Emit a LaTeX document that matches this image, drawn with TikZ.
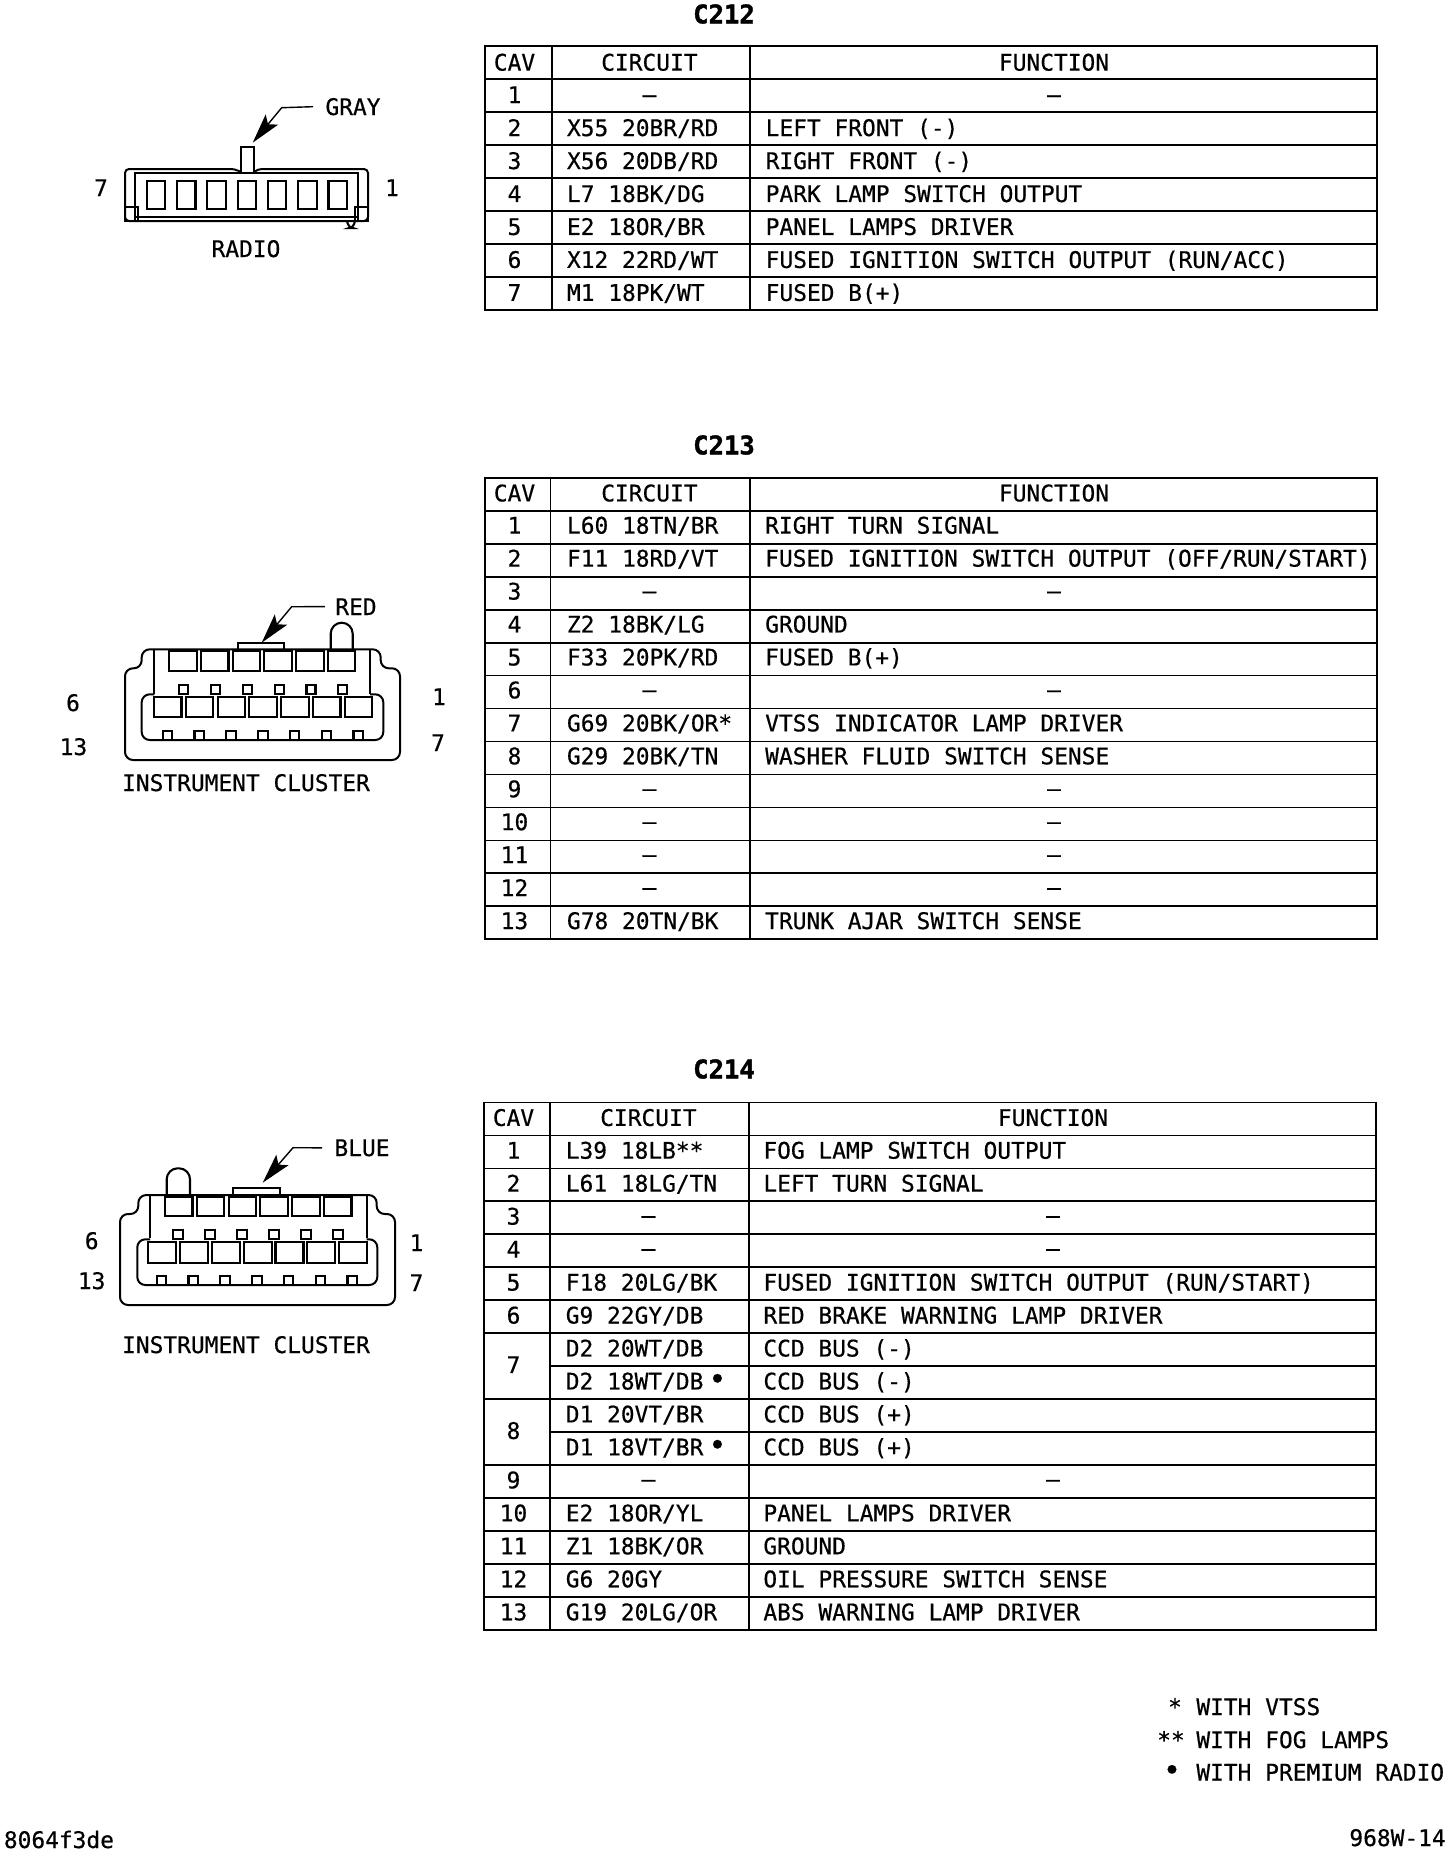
\documentclass[tikz,border=0pt]{standalone}
\usepackage{fontspec}
\newfontfamily\plotfont[FakeBold=0.5]{DejaVu Sans Mono}
\newfontfamily\headfont[FakeBold=1.5]{DejaVu Sans Mono Bold}
\usetikzlibrary{arrows.meta,positioning}
\newcommand{\plotsize}{\fontsize{11.43}{14}\selectfont}
\newcommand{\bigdot}{{\fontsize{15}{15}\selectfont •}}
\newcommand{\dotmark}{\kern2.5pt\bigdot}
\tikzstyle{txt}=[font=\plotfont\plotsize,inner sep=0pt,text=black]
\tikzstyle{cell}=[txt,anchor=base west]
\tikzstyle{mid}=[txt,anchor=base]
\tikzstyle{title}=[inner sep=0pt,font=\headfont\fontsize{12.8}{14}\selectfont]
\tikzstyle{rule}=[line width=0.85pt]
\tikzstyle{shell}=[line width=1pt,rounded corners=4pt]
\tikzstyle{cavity}=[line width=1.05pt]
\tikzstyle{pointer}=[line width=0.7pt,-{Stealth[length=15pt,width=8pt,inset=3pt]}]
\begin{document}
\begin{tikzpicture}[x=0.5pt,y=-0.5pt]
  \useasboundingbox (0,0) rectangle (1456,1854);

  % C212
  \node[title] (titleA) at (724,14) {C212};
  \begin{scope}[shift={(0,46.1)}]
    \draw[rule] (485,0) rectangle (1377,263.8);
    \foreach \k in {1,...,7} \draw[rule] (485,{\k*32.97}) -- (1377,{\k*32.97});
    \foreach \c in {551.8,749.9} \draw[rule] (\c,0) -- (\c,263.8);
    \node[mid] (cavHeadA) at (514.5,24.5) {CAV};
    \node[mid] (cirHeadA) at (649.4,24.5) {CIRCUIT};
    \node[mid] (funHeadA) at (1054,24.5) {FUNCTION};
    \foreach \n in {1,...,7} \node[mid] (cavA\n) at (514.5,{(\n+.5)*32.97+7.5}) {\n};
    \node[mid] (cirA1) at (649.4,{1.5*32.97+7}) {–};
    \node[mid] (funA1) at (1054,{1.5*32.97+7}) {–};
    \foreach \n/\cir/\fun in {2/{X55 20BR/RD}/{LEFT FRONT (-)},
        3/{X56 20DB/RD}/{RIGHT FRONT (-)},
        4/{L7 18BK/DG}/{PARK LAMP SWITCH OUTPUT},
        5/{E2 18OR/BR}/{PANEL LAMPS DRIVER},
        6/{X12 22RD/WT}/{FUSED IGNITION SWITCH OUTPUT (RUN/ACC)},
        7/{M1 18PK/WT}/{FUSED B(+)}} {
      \node[cell] (cirA\n) at (566.6,{(\n+.5)*32.97+7.5}) {\cir};
      \node[cell] (funA\n) at (765.3,{(\n+.5)*32.97+7.5}) {\fun};
    }
  \end{scope}

  % C213
  \node[title] (titleB) at (724,445) {C213};
  \begin{scope}[shift={(0,477.9)}]
    \draw[rule] (485,0) rectangle (1377,461.2);
    \foreach \k in {1,...,13} \draw[rule] (485,{\k*32.95}) -- (1377,{\k*32.95});
    \foreach \c in {550.6,749.9} \draw[rule] (\c,0) -- (\c,461.2);
    \node[mid] (cavHeadB) at (514.5,23.5) {CAV};
    \node[mid] (cirHeadB) at (649.4,23.5) {CIRCUIT};
    \node[mid] (funHeadB) at (1054,23.5) {FUNCTION};
    \foreach \n in {1,...,13} \node[mid] (cavB\n) at (514.5,{(\n+.5)*32.95+6.3}) {\n};
    \foreach \n in {3,6,9,10,11,12} {
      \node[mid] (cirB\n) at (649.4,{(\n+.5)*32.95+5.5}) {–};
      \node[mid] (funB\n) at (1054,{(\n+.5)*32.95+5.5}) {–};
    }
    \foreach \n/\cir/\fun in {1/{L60 18TN/BR}/{RIGHT TURN SIGNAL},
        2/{F11 18RD/VT}/{FUSED IGNITION SWITCH OUTPUT (OFF/RUN/START)},
        4/{Z2 18BK/LG}/{GROUND},
        5/{F33 20PK/RD}/{FUSED B(+)},
        7/{G69 20BK/OR*}/{VTSS INDICATOR LAMP DRIVER},
        8/{G29 20BK/TN}/{WASHER FLUID SWITCH SENSE},
        13/{G78 20TN/BK}/{TRUNK AJAR SWITCH SENSE}} {
      \node[cell] (cirB\n) at (566.6,{(\n+.5)*32.95+6.3}) {\cir};
      \node[cell] (funB\n) at (764.8,{(\n+.5)*32.95+6.3}) {\fun};
    }
  \end{scope}

  % C214
  \node[title] (titleC) at (724,1069) {C214};
  \begin{scope}[shift={(0,1102.4)}]
    \draw[rule] (483.8,0) rectangle (1375.8,527.5);
    \foreach \k in {1,...,7,9,11,12,13,14,15} \draw[rule] (483.8,{\k*32.97}) -- (1375.8,{\k*32.97});
    \foreach \k in {8,10} \draw[rule] (550,{\k*32.97}) -- (1375.8,{\k*32.97});
    \foreach \c in {550,748.7} \draw[rule] (\c,0) -- (\c,527.5);
    \node[mid] (cavHeadC) at (513.5,23.5) {CAV};
    \node[mid] (cirHeadC) at (648.4,23.5) {CIRCUIT};
    \node[mid] (funHeadC) at (1053,23.5) {FUNCTION};
    \foreach \n/\cav in {1/1,2/2,3/3,4/4,5/5,6/6,7.5/7,9.5/8,11/9,12/10,13/11,14/12,15/13}
      \node[mid] (cavC\cav) at (513.5,{(\n+.5)*32.97+6.8}) {\cav};
    \foreach \n in {3,4,11} {
      \node[mid] (cirC\n) at (648.4,{(\n+.5)*32.97+5.5}) {–};
      \node[mid] (funC\n) at (1053,{(\n+.5)*32.97+5.5}) {–};
    }
    \foreach \n/\cir/\fun in {1/{L39 18LB**}/{FOG LAMP SWITCH OUTPUT},
        2/{L61 18LG/TN}/{LEFT TURN SIGNAL},
        5/{F18 20LG/BK}/{FUSED IGNITION SWITCH OUTPUT (RUN/START)},
        6/{G9 22GY/DB}/{RED BRAKE WARNING LAMP DRIVER},
        7/{D2 20WT/DB}/{CCD BUS (-)},
        8/{D2 18WT/DB\dotmark}/{CCD BUS (-)},
        9/{D1 20VT/BR}/{CCD BUS (+)},
        10/{D1 18VT/BR\dotmark}/{CCD BUS (+)},
        12/{E2 18OR/YL}/{PANEL LAMPS DRIVER},
        13/{Z1 18BK/OR}/{GROUND},
        14/{G6 20GY}/{OIL PRESSURE SWITCH SENSE},
        15/{G19 20LG/OR}/{ABS WARNING LAMP DRIVER}} {
      \node[cell] (cirC\n) at (565.4,{(\n+.5)*32.97+6.8}) {\cir};
      \node[cell] (funC\n) at (763,{(\n+.5)*32.97+6.8}) {\fun};
    }
  \end{scope}

  % radio connector
  \draw[shell,rounded corners=2pt] (240.7,172) -- (235,169) -- (125,169) -- (125,221) -- (368,221) -- (368,169) -- (258,169) -- (254,172);
  \draw[cavity] (135,221) -- (135,173) -- (358,173) -- (358,221);
  \draw[cavity] (135,217) -- (358,217);
  \draw[cavity] (240.7,172) -- (240.7,146.7) -- (254,146.7) -- (254,172);
  \foreach \i in {0,...,6} \draw[cavity] ({146.7+30.3*\i},180.7) rectangle ++(18.5,28.3);
  \draw[cavity] (125,207) rectangle (137.7,221);
  \draw[cavity] (355,207) rectangle (368,221);
  \draw[cavity,rounded corners=2pt] (347,221) -- (349,228) -- (353,228) -- (355,221);
  \node[mid] (grayLabel) at (353,115) {GRAY};
  \coordinate (grayBend) at (281.7,107.7);
  \coordinate (grayTip) at (252.7,142.7);
  \draw[pointer] (grayLabel.west) ++(-12,0) -- (grayBend) -- (grayTip);
  \node[mid] (radioLeft) at (101,196) {7};
  \node[mid] (radioRight) at (392,196) {1};
  \node[mid] (radioName) at (246,257) {RADIO};

  % instrument cluster, red
  \draw[shell] (141.7,649.3) -- (380.7,649.3) -- (380.7,668.3) -- (400,668.3) -- (400,760) -- (125,760) -- (125,668.3) -- (141.7,668.3) -- cycle;
  \draw[cavity] (154.3,649.3) -- (154.3,694.3) (370,649.3) -- (370,694.3);
  \draw[shell] (154.3,694.3) -- (141.7,694.3) -- (141.7,740) -- (383.3,740) -- (383.3,694.3) -- (370,694.3);
  \draw[cavity] (237.7,649.3) -- (237.7,642.7) -- (284.3,642.7) -- (284.3,649.3);
  \draw[cavity,rounded corners=5.5pt] (330.7,649.3) -- (330.7,622.7) -- (352.7,622.7) -- (352.7,649.3);
  \foreach \i in {0,...,5} {
    \draw[cavity] ({169.3+31.7*\i},651) rectangle ++(27.5,19.7);
    \draw[cavity] ({179.3+31.8*\i},685) rectangle ++(9,9);
  }
  \foreach \i in {0,...,6} {
    \draw[cavity] ({154+31.8*\i},697.3) rectangle ++(27.5,19.4);
    \draw[cavity] ({162.7+31.8*\i},730.7) rectangle ++(9.5,9.3);
  }
  \node[mid] (redLabel) at (356,615) {RED};
  \coordinate (redBend) at (291.7,606.7);
  \coordinate (redTip) at (261.7,642.7);
  \draw[pointer] (redLabel.west) ++(-10,0) -- (redBend) -- (redTip);
  \node[mid] (redSix) at (73,711) {6};
  \node[mid] (redThirteen) at (73.5,755) {13};
  \node[mid] (redOne) at (439,705) {1};
  \node[mid] (redSeven) at (438,751) {7};
  \node[mid] (redName) at (246,791) {INSTRUMENT CLUSTER};

  % instrument cluster, blue
  \draw[shell] (138.3,1195) -- (376.7,1195) -- (376.7,1214) -- (395,1214) -- (395,1305) -- (120,1305) -- (120,1214) -- (138.3,1214) -- cycle;
  \draw[cavity] (150,1195) -- (150,1238.3) (366.7,1195) -- (366.7,1238.3);
  \draw[shell] (150,1239.3) -- (137.3,1239.3) -- (137.3,1285) -- (377.3,1285) -- (377.3,1239.3) -- (366.7,1239.3);
  \draw[cavity] (232.7,1195) -- (232.7,1188.3) -- (280,1188.3) -- (280,1195);
  \draw[cavity,rounded corners=5.5pt] (166.7,1195) -- (166.7,1168.3) -- (190,1168.3) -- (190,1195);
  \foreach \i in {0,...,5} {
    \draw[cavity] ({165+31.8*\i},1197.3) rectangle ++(27.5,18.7);
    \draw[cavity] ({173.3+32*\i},1230) rectangle ++(9.5,9.3);
  }
  \foreach \i in {0,...,6} {
    \draw[cavity] ({148.3+31.8*\i},1242.3) rectangle ++(28,20.4);
    \draw[cavity] ({156.7+31.8*\i},1275.7) rectangle ++(9.5,9.3);
  }
  \node[mid] (blueLabel) at (362,1156) {BLUE};
  \coordinate (blueBend) at (293,1147.7);
  \coordinate (blueTip) at (262.7,1182.7);
  \draw[pointer] (blueLabel.west) ++(-12,0) -- (blueBend) -- (blueTip);
  \node[mid] (blueSix) at (91.7,1249) {6};
  \node[mid] (blueThirteen) at (91.7,1289) {13};
  \node[mid] (blueOne) at (416.5,1251) {1};
  \node[mid] (blueSeven) at (416.5,1291) {7};
  \node[mid] (blueName) at (246,1353) {INSTRUMENT CLUSTER};

  % notes
  \node[mid] (noteStarOne) at (1175,1715) {*};
  \node[cell] (noteOne) at (1196,1715) {WITH VTSS};
  \node[mid] (noteStarTwo) at (1171,1748) {**};
  \node[cell] (noteTwo) at (1196,1748) {WITH FOG LAMPS};
  \node[mid] (noteDot) at (1172,1780.5) {\bigdot};
  \node[cell] (noteThree) at (1196,1780.5) {WITH PREMIUM RADIO};
  \node[cell] (sheetId) at (3.5,1848) {8064f3de};
  \node[cell] (sheetNo) at (1349,1846) {968W-14};
\end{tikzpicture}
\end{document}
